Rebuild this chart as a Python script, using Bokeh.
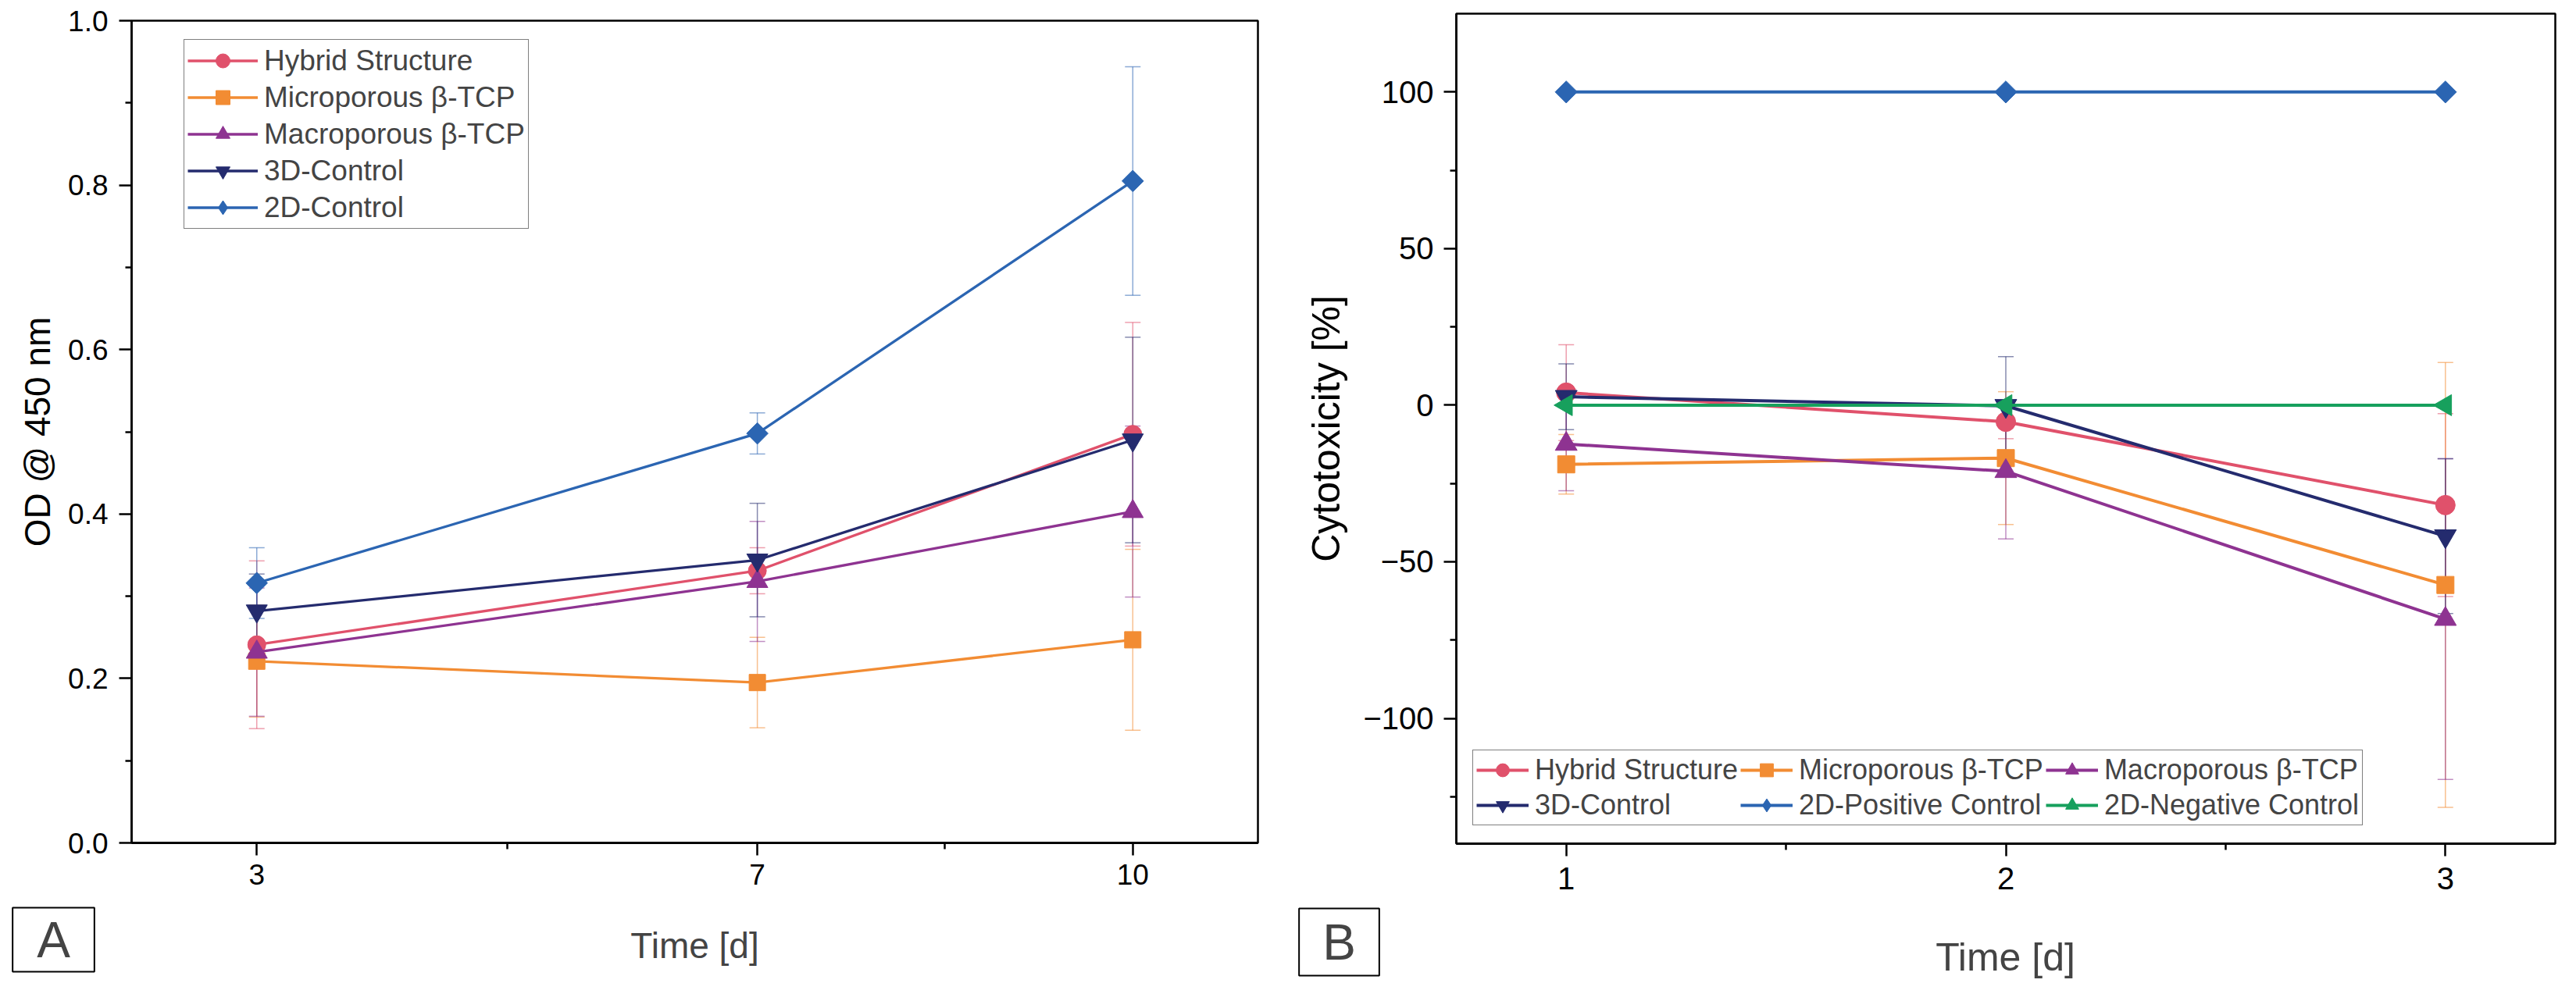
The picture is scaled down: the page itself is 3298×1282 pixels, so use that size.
from math import pi
from bokeh.plotting import figure
from bokeh.layouts import row, column
from bokeh.models import (ColumnDataSource, Whisker, TeeHead, Range1d, FixedTicker,
                          PrintfTickFormatter, Label)
from bokeh.embed import file_html
from bokeh.resources import INLINE

FONT = "Liberation Sans"

# ---- panel A: OD @ 450 nm over time ----
days_a = [3, 7, 10]
od_hybrid = [0.241, 0.331, 0.497]
od_hybrid_err = [0.102, 0.028, 0.136]
od_micro = [0.221, 0.195, 0.247]
od_micro_err = [0.068, 0.055, 0.110]
od_macro = [0.232, 0.318, 0.403]
od_macro_err = [0.078, 0.073, 0.104]
od_3d = [0.282, 0.344, 0.490]
od_3d_err = [0.045, 0.069, 0.125]
od_2d = [0.316, 0.498, 0.805]
od_2d_err = [0.043, 0.025, 0.139]

# ---- panel B: cytotoxicity [%] over time ----
days_b = [1, 2, 3]
cyt_hybrid = [4.0, -5.3, -31.9]
cyt_hybrid_err = [15.3, 5.4, 29.2]
cyt_micro = [-18.9, -16.9, -57.4]
cyt_micro_err = [9.5, 21.2, 71.0]
cyt_macro = [-12.4, -21.1, -68.3]
cyt_macro_err = [14.9, 21.6, 51.2]
cyt_3d = [2.7, -0.2, -41.8]
cyt_3d_err = [10.5, 15.7, 24.7]
cyt_pos = [100, 100, 100]
cyt_neg = [0, 0, 0]

ticks_a = [3, 7, 10]
ticks_b = [1, 2, 3]

C_HYB = "#E0516B"
C_MIC = "#F28C33"
C_MAC = "#8E3391"
C_3D = "#242B6E"
C_2D = "#2B65B2"
C_NEG = "#17A05D"

NAN = float("nan")
MAIN_H = 1158   # plot part of each panel
STRIP_H = 108   # strip under it with the panel letter and the x title


def add_series(p, x, y, err, color, marker, size, label, lw, angle=0.0, legend_marker=None):
    if err is not None:
        src = ColumnDataSource(dict(x=x,
                                    lower=[v - e for v, e in zip(y, err)],
                                    upper=[v + e for v, e in zip(y, err)]))
        head = dict(size=20, line_color=color, line_alpha=0.55, line_width=1.5)
        w = Whisker(base="x", lower="lower", upper="upper", source=src,
                    dimension="height", level="underlay",
                    line_color=color, line_alpha=0.55, line_width=1.5,
                    upper_head=TeeHead(**head), lower_head=TeeHead(**head))
        p.add_layout(w)
    p.line(x, y, line_color=color, line_width=lw, legend_label=label)
    if legend_marker is None:
        p.scatter(x, y, marker=marker, size=size, angle=angle, fill_color=color,
                  line_color=color, legend_label=label)
    else:
        # rotated marker in the plot, upright stand-in for the legend entry
        p.scatter(x, y, marker=marker, size=size, angle=angle, fill_color=color,
                  line_color=color)
        p.scatter([NAN], [NAN], marker=legend_marker, size=size, fill_color=color,
                  line_color=color, legend_label=label)


def style(p, tick_px, label_px):
    p.outline_line_color = "black"
    p.outline_line_width = 2.5
    p.xgrid.visible = False
    p.ygrid.visible = False
    for ax in p.axis:
        ax.axis_line_width = 2.5
        ax.major_tick_line_width = 2.5
        ax.minor_tick_line_width = 2.5
        ax.major_tick_out = 16
        ax.major_tick_in = 0
        ax.minor_tick_out = 8
        ax.minor_tick_in = 0
        ax.major_label_text_font = FONT
        ax.major_label_text_font_size = tick_px
        ax.major_label_text_color = "black"
        ax.axis_label_text_font = FONT
        ax.axis_label_text_font_size = label_px
        ax.axis_label_text_font_style = "normal"
        ax.axis_label_text_color = "black"
    p.xaxis.axis_line_width = 3


def strip(width, letter, lx, ly, pad_x, pad_y, title, tx, ty, title_px):
    s = figure(width=width, height=STRIP_H, output_backend="svg", toolbar_location=None,
               x_axis_type=None, y_axis_type=None, min_border=0, frame_align=False,
               x_range=Range1d(0, width), y_range=Range1d(0, STRIP_H))
    s.outline_line_color = None
    s.xgrid.visible = False
    s.ygrid.visible = False
    s.add_layout(Label(x=lx, y=ly, x_units="screen", y_units="screen", text=letter,
                       text_font=FONT, text_font_size="64px", text_align="center",
                       text_baseline="middle", border_line_color="black",
                       border_line_width=2, background_fill_color="white",
                       padding=dict(left=pad_x, right=pad_x, top=pad_y, bottom=pad_y)))
    s.add_layout(Label(x=tx, y=ty, x_units="screen", y_units="screen", text=title,
                       text_font=FONT, text_font_size=title_px, text_align="center",
                       text_baseline="alphabetic"))
    return s


# ---------- panel A ----------
pa = figure(width=1640, height=MAIN_H, output_backend="svg", toolbar_location=None,
            x_range=Range1d(2, 11), y_range=Range1d(0, 1.0),
            y_axis_label="OD @ 450 nm", frame_align=False,
            min_border_left=168, min_border_right=30, min_border_top=26,
            min_border_bottom=MAIN_H - 1079)
style(pa, "37px", "46px")
pa.xaxis.ticker = FixedTicker(ticks=ticks_a, minor_ticks=[5, 8.5])
pa.yaxis.ticker = FixedTicker(ticks=[0, 0.2, 0.4, 0.6, 0.8, 1.0],
                              minor_ticks=[0.1, 0.3, 0.5, 0.7, 0.9])
pa.yaxis.formatter = PrintfTickFormatter(format="%.1f")
pa.xaxis.major_label_standoff = 11
pa.yaxis.major_label_standoff = 14
pa.yaxis.axis_label_standoff = 10

add_series(pa, days_a, od_hybrid, od_hybrid_err, C_HYB, "circle", 23, "Hybrid Structure", 3.3)
add_series(pa, days_a, od_micro, od_micro_err, C_MIC, "square", 21, "Microporous β-TCP", 3.3)
add_series(pa, days_a, od_macro, od_macro_err, C_MAC, "triangle", 27, "Macroporous β-TCP", 3.3)
add_series(pa, days_a, od_3d, od_3d_err, C_3D, "inverted_triangle", 27, "3D-Control", 3.3)
add_series(pa, days_a, od_2d, od_2d_err, C_2D, "square", 19.5, "2D-Control", 3.3,
           angle=pi / 4, legend_marker="diamond")

lg = pa.legend[0]
lg.location = (67, 786)
lg.label_text_font = FONT
lg.label_text_font_size = "37px"
lg.glyph_width = 90
lg.glyph_height = 45
lg.label_height = 45
lg.label_standoff = 8
lg.spacing = 2
lg.padding = 4
lg.margin = 0
lg.border_line_color = "black"
lg.border_line_width = 1.5
lg.background_fill_alpha = 1.0

sa = strip(1640, "A", 68, 63, 31, 5, "Time [d]", 889, 56, "46px")

# ---------- panel B ----------
pb = figure(width=1642, height=MAIN_H, output_backend="svg", toolbar_location=None,
            x_range=Range1d(0.75, 3.25), y_range=Range1d(-140, 125),
            y_axis_label="Cytotoxicity [%]", frame_align=False,
            min_border_left=224, min_border_right=11, min_border_top=17,
            min_border_bottom=MAIN_H - 1080)
style(pb, "40px", "50px")
pb.xaxis.ticker = FixedTicker(ticks=ticks_b, minor_ticks=[1.5, 2.5])
pb.yaxis.ticker = FixedTicker(ticks=[-100, -50, 0, 50, 100],
                              minor_ticks=[-125, -75, -25, 25, 75])
pb.xaxis.major_label_standoff = 14
pb.yaxis.major_label_standoff = 13
pb.yaxis.axis_label_standoff = 16

add_series(pb, days_b, cyt_hybrid, cyt_hybrid_err, C_HYB, "circle", 25, "Hybrid Structure", 4)
add_series(pb, days_b, cyt_micro, cyt_micro_err, C_MIC, "square", 22, "Microporous β-TCP", 4)
add_series(pb, days_b, cyt_macro, cyt_macro_err, C_MAC, "triangle", 28, "Macroporous β-TCP", 4)
add_series(pb, days_b, cyt_3d, cyt_3d_err, C_3D, "inverted_triangle", 28, "3D-Control", 4)
add_series(pb, days_b, cyt_pos, None, C_2D, "square", 20, "2D-Positive Control", 4,
           angle=pi / 4, legend_marker="diamond")
add_series(pb, days_b, cyt_neg, None, C_NEG, "triangle", 27, "2D-Negative Control", 4,
           angle=pi / 2)

lb = pb.legend[0]
lb.location = (21, 23)
lb.orientation = "horizontal"
lb.ncols = 3
lb.label_text_font = FONT
lb.label_text_font_size = "36px"
lb.glyph_width = 67
lb.glyph_height = 42
lb.label_height = 42
lb.label_standoff = 8
lb.spacing = 3
lb.padding = 4
lb.margin = 0
lb.border_line_color = "black"
lb.border_line_width = 1.5
lb.background_fill_alpha = 1.0

sb = strip(1642, "B", 74, 60, 30, 7, "Time [d]", 927, 41, "50px")

layout = row(column(pa, sa), column(pb, sb))
open("out.html", "w").write(file_html(layout, INLINE))
